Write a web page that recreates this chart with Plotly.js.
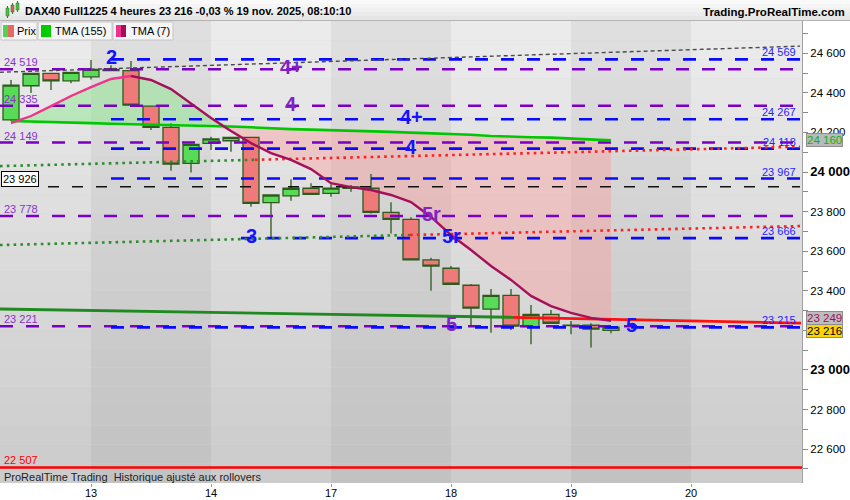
<!DOCTYPE html>
<html><head><meta charset="utf-8">
<script src="https://cdn.plot.ly/plotly-3.0.1.min.js"></script>
<style>html,body{margin:0;padding:0;background:#fff;}#chart{width:850px;height:500px;}</style>
</head><body><div id="chart"></div>
<script>
// ---------- data ----------
const candleX = [0,1,2,3,4,5,6,7,8,9,10,11,12,13,14,15,16,17,18,19,20,21,22,23,24,25,26,27,28,29,30];
const openP  = [24263,24436,24498,24461,24481,24512,24512,24333,24226,24044,24145,24158,24175,23845,23880,23918,23892,23918,23918,23796,23761,23556,23514,23428,23307,23377,23219,23281,23226,23226,23200];
const highP  = [24465,24500,24502,24505,24566,24540,24561,24336,24246,24142,24178,24178,24178,23886,23963,23943,23938,23934,23990,23847,23771,23567,23525,23434,23409,23409,23328,23303,23247,23236,23220];
const lowP   = [24258,24399,24414,24448,24468,24510,24330,24212,24007,23997,24111,24102,23825,23665,23855,23885,23875,23900,23791,23690,23553,23400,23430,23222,23188,23202,23130,23234,23180,23113,23186];
const closeP = [24439,24498,24461,24503,24519,24519,24338,24226,24040,24140,24167,24175,23842,23884,23918,23887,23919,23925,23796,23761,23556,23525,23433,23312,23377,23222,23281,23236,23224,23206,23216];
const tma155 = [24258,24256,24253,24250,24247,24244,24242,24239,24237,24235,24232,24230,24226,24220,24217,24214,24212,24210,24207,24203,24199,24196,24192,24188,24182,24178,24176,24174,24170,24166,24160];
const tma7   = [24247,24283,24333,24384,24429,24470,24485,24465,24419,24348,24273,24207,24146,24096,24061,24015,23944,23924,23909,23884,23848,23773,23682,23606,23525,23455,23374,23323,23288,23263,23249];
const dayTicks  = [4,10,16,22,28,34];
const dayLabels = ['13','14','17','18','19','20'];
const purpleLevels = [24519,24335,24149,23778,23221];
const blueLevels   = [24569,24267,24118,23967,23666,23215];
const blueStarts   = [5,5,5,5,11.5,5];
const blackLevel   = 23926;
const supportLevel = 22507;
const trendX = [-0.55, 39.45];         const trendY = [24504, 24636];
const upperDotX = [-0.55, 12.2, 39.45]; const upperDotY = [24030, 24062, 24128];
const lowerDotX = [-0.55, 19.95, 39.45]; const lowerDotY = [23631, 23682, 23727];
const longMaX = [-0.55, 25.1, 39.5];    const longMaY = [23308, 23266, 23237];
const waveText  = ['2','4+','4','4+','4','3','5r','5r','5','5'];
const waveX     = [5,14,14,20,20,12,21,22,22,31];
const waveY     = [24569,24519,24335,24267,24118,23666,23778,23666,23221,23215];
const waveKind  = ['b','p','p','b','b','b','p','b','p','b'];
const lastPrice = 23216;
const headerText = 'DAX40 Full1225 4 heures 23 216 -0,03 % 19 nov. 2025, 08:10:10';

// ---------- helpers ----------
const FONT = 'Liberation Sans, Arial, sans-serif';
const fmt = v => String(v).replace(/\B(?=(\d{3})+(?!\d))/g, ' ');
const PW = 802, PT = 21, PB = 483, PH = PB - PT;
const px = p => p / PW;
const py = p => (PB - p) / PH;
const XR = [-0.55, 39.55], YR = [22429, 24763];
const BLUE = '#0a0aff', PURPLE = '#7a00c4', PURPLE_T = '#8833cc';

const traces = [];
const shapes = [];
const ann = [];

// background day bands with vertical gradient (layer below)
const bandEdges = [XR[0], ...dayTicks, XR[1]];
const N = 24;
function mix(a, b, t) { return Math.round(a + (b - a) * t); }
for (let b = 0; b < bandEdges.length - 1; b++) {
  const dark = b % 2 === 1;
  const top = dark ? 224 : 236, bot = dark ? 193 : 203;
  for (let s = 0; s < N; s++) {
    const t = (s + 0.5) / N;
    const g = mix(top, bot, t);
    shapes.push({type:'rect', layer:'below', xref:'x', yref:'paper',
      x0:bandEdges[b], x1:bandEdges[b+1], y0:1 - (s+1)/N, y1:1 - s/N,
      fillcolor:`rgb(${g},${g},${g})`, line:{width:0}});
  }
}

// fill between TMA7 and TMA155 (below candles)
const upper = tma7.map((v,i)=>Math.max(v,tma155[i]));
const lower = tma7.map((v,i)=>Math.min(v,tma155[i]));
function polyPath(topArr, botArr) {
  let p = '';
  candleX.forEach((x,i)=>{ p += (i? ' L':'M') + x + ',' + topArr[i]; });
  for (let i = candleX.length-1; i >= 0; i--) p += ' L' + candleX[i] + ',' + botArr[i];
  return p + ' Z';
}
shapes.push({type:'path', layer:'below', xref:'x', yref:'y', path:polyPath(upper, tma155),
  fillcolor:'rgba(140,232,140,0.5)', line:{width:0}});
shapes.push({type:'path', layer:'below', xref:'x', yref:'y', path:polyPath(tma155, lower),
  fillcolor:'rgba(255,150,150,0.38)', line:{width:0}});

// candles
traces.push({type:'candlestick', x:candleX, open:openP, high:highP, low:lowP, close:closeP,
  increasing:{line:{color:'#2d5b1d', width:1.3}, fillcolor:'#58dc58'},
  decreasing:{line:{color:'#2d5b1d', width:1.3}, fillcolor:'#ef7a7a'},
  whiskerwidth:0, hoverinfo:'skip', showlegend:false});

function line(x, y, color, width, dash) {
  traces.push({type:'scatter', mode:'lines', x:x, y:y, hoverinfo:'skip', showlegend:false,
    line:{color:color, width:width, dash:dash||'solid'}});
}
// support
line([XR[0], XR[1]], [supportLevel, supportLevel], '#ff0000', 2.6);
// level lines
purpleLevels.forEach(v => line([XR[0], 39.3], [v, v], PURPLE, 2.6, '13px,13px'));
blueLevels.forEach((v,i) => line([blueStarts[i], 39.45], [v, v], BLUE, 2.6, '13px,13px'));
line([1.85, 39.45], [blackLevel, blackLevel], '#111111', 1.4, '11px,13px');
// trend lines
line(trendX, trendY, '#4a4a4a', 1.4, '4px,3px');
line(upperDotX.slice(0,2), upperDotY.slice(0,2), '#2e8b2e', 2.6, '2.6px,4.2px');
line(upperDotX.slice(1), upperDotY.slice(1), '#ff2020', 2.6, '2.6px,4.2px');
line(lowerDotX.slice(0,2), lowerDotY.slice(0,2), '#2e8b2e', 2.6, '2.6px,4.2px');
line(lowerDotX.slice(1), lowerDotY.slice(1), '#ff2020', 2.6, '2.6px,4.2px');
line(longMaX.slice(0,2), longMaY.slice(0,2), '#1f8a1f', 2.8);
line(longMaX.slice(1), longMaY.slice(1), '#ff1010', 2.8);
// moving averages
line(candleX, tma155, '#00c800', 2.6);
line(candleX.slice(0,7), tma7.slice(0,7), '#f0338c', 2.4);
line(candleX.slice(6), tma7.slice(6), '#a5105a', 2.4);

// ---------- annotations ----------
purpleLevels.forEach(v => ann.push({xref:'paper', x:0, xanchor:'left', xshift:2, yref:'y', y:v,
  yanchor:'bottom', yshift:-1, text:fmt(v), showarrow:false, font:{family:FONT, size:11, color:PURPLE_T}}));
blueLevels.forEach(v => ann.push({xref:'paper', x:px(798), xanchor:'right', yref:'y', y:v,
  yanchor:'bottom', yshift:-1, text:fmt(v), showarrow:false, font:{family:FONT, size:11, color:'#2424ff'}}));
ann.push({xref:'paper', x:px(1), xanchor:'left', yref:'y', y:blackLevel, yanchor:'bottom', yshift:0,
  text:fmt(blackLevel), showarrow:false, bgcolor:'#ffffff', bordercolor:'#000000', borderwidth:1, borderpad:1,
  font:{family:FONT, size:11, color:'#000'}});
ann.push({xref:'paper', x:0, xanchor:'left', xshift:2, yref:'y', y:supportLevel, yanchor:'bottom', yshift:0,
  text:fmt(supportLevel), showarrow:false, font:{family:FONT, size:11, color:'#ff0000'}});
waveText.forEach((t,i) => ann.push({xref:'x', x:waveX[i], yref:'y', y:waveY[i], yanchor:'middle', yshift:2,
  text:'<b>'+t+'</b>', showarrow:false, font:{family:FONT, size:20, color: waveKind[i]==='b' ? '#1414ff' : '#8022c8'}}));
// right axis value boxes
function axisBox(v, txt, color, bg, shift) {
  ann.push({xref:'paper', x:1, xanchor:'left', xshift:4, yref:'y', y:v, yanchor:'middle', yshift:shift,
    text:txt, showarrow:false, bgcolor:bg, bordercolor:'#8e8e8e', borderwidth:1, borderpad:0,
    font:{family:FONT, size:11.5, color:color}});
}
axisBox(tma155[30], fmt(tma155[30]), '#12b012', '#b9b9b9', 0);
axisBox(tma7[30], fmt(tma7[30]), '#a0105a', '#bdbdbd', 3);
axisBox(lastPrice, fmt(lastPrice), '#000000', '#ffd400', -4);
// bottom note
ann.push({xref:'paper', x:px(2), xanchor:'left', yref:'paper', y:py(477), yanchor:'middle',
  text:'ProRealTime Trading\u00a0 Historique ajusté aux rollovers', showarrow:false,
  font:{family:FONT, size:11, color:'#222'}});
// header
for (let s = 0; s < 5; s++) {
  const g = mix(252, 228, (s+0.5)/5);
  shapes.push({type:'rect', xref:'paper', yref:'paper', x0:0, x1:px(850), y0:py(4*(s+1)), y1:py(4*s),
    fillcolor:`rgb(${g},${g},${g})`, line:{width:0}});
}
shapes.push({type:'line', xref:'paper', yref:'paper', x0:0, x1:px(850), y0:py(20.5), y1:py(20.5), line:{color:'#b4b4b4', width:1}});
// header icon (small candles)
[[6,9,'#4cc04c',8,16],[11,14,'#e05a5a',5,12],[16,19,'#4cc04c',3,10]].forEach(c=>{
  shapes.push({type:'line', xref:'paper', yref:'paper', x0:px((c[0]+c[1])/2), x1:px((c[0]+c[1])/2), y0:py(c[4]+2), y1:py(c[3]-2), line:{color:'#3a7a2a', width:1}});
  shapes.push({type:'rect', xref:'paper', yref:'paper', x0:px(c[0]), x1:px(c[1]), y0:py(c[4]), y1:py(c[3]), fillcolor:c[2], line:{color:'#3a7a2a', width:0.6}});
});
ann.push({xref:'paper', x:px(23), xanchor:'left', yref:'paper', y:py(11), yanchor:'middle', text:'<b>'+headerText+'</b>',
  showarrow:false, font:{family:FONT, size:11, color:'#000'}});
ann.push({xref:'paper', x:px(847), xanchor:'right', yref:'paper', y:py(12), yanchor:'middle', text:'<b>Trading.ProRealTime.com</b>',
  showarrow:false, font:{family:FONT, size:11.5, color:'#000'}});
// legend boxes
const legBoxes = [[1,37,'Prix',16],[38,112,'TMA (155)',54],[113,173,'TMA (7)',130]];
legBoxes.forEach(b=>{
  shapes.push({type:'rect', xref:'paper', yref:'paper', x0:px(b[0]), x1:px(b[1]), y0:py(40), y1:py(22),
    fillcolor:'#f5f5f5', line:{color:'#c6c6c6', width:1}});
  ann.push({xref:'paper', x:px(b[3]), xanchor:'left', xshift:-1, yref:'paper', y:py(31), yanchor:'middle', text:b[2],
    showarrow:false, font:{family:FONT, size:11, color:'#000'}});
});
[[3,8,'#4cd64c'],[8,14,'#e86868'],[41,51,'#00cc00'],[116,121,'#f0308a'],[121,126,'#a0105a']].forEach(c=>{
  shapes.push({type:'rect', xref:'paper', yref:'paper', x0:px(c[0]), x1:px(c[1]), y0:py(37), y1:py(25), fillcolor:c[2], line:{width:0}});
});

// y ticks (23 200 sits under the price boxes, as in the source)
const yTickVals = [], yTickText = [];
for (let v = 22500; v <= 24700; v += 100) {
  yTickVals.push(v);
  if (v % 200 !== 0 || v === 23200) yTickText.push('');
  else if (v % 1000 === 0) yTickText.push('<b><span style="font-size:13px">'+fmt(v)+'</span></b>');
  else yTickText.push(fmt(v));
}

const layout = {
  width:850, height:500, showlegend:false,
  paper_bgcolor:'#ffffff', plot_bgcolor:'#d6d6d6',
  margin:{l:0, r:48, t:21, b:17, autoexpand:false},
  boxgap:0.2, boxgroupgap:0,
  xaxis:{range:XR, rangeslider:{visible:false}, showgrid:false, zeroline:false,
    tickvals:dayTicks, ticktext:dayLabels, ticks:'outside', ticklen:3, tickcolor:'#999',
    ticklabelstandoff:-3,
    tickfont:{family:FONT, size:11, color:'#000'}, showline:false},
  yaxis:{range:YR, side:'right', showgrid:false, zeroline:false, showline:true, linecolor:'#a0a0a0',
    tickvals:yTickVals, ticktext:yTickText, ticks:'outside', ticklen:5, tickcolor:'#8a8a8a',
    tickfont:{family:FONT, size:11.5, color:'#000'}},
  shapes:shapes, annotations:ann
};
Plotly.newPlot('chart', traces, layout, {displayModeBar:false, staticPlot:true});
</script></body></html>
